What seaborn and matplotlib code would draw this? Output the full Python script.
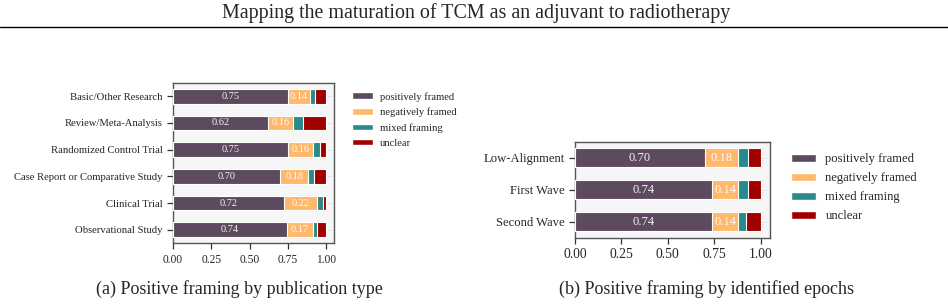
'''Positive framing of TCM studies - two stacked bar panels'''

import pandas as pd
import seaborn as sns
import matplotlib.pyplot as plt
from matplotlib.patches import Patch


pub_types = ['Basic/Other Research', 'Review/Meta-Analysis', 'Randomized Control Trial',
             'Case Report or Comparative Study', 'Clinical Trial', 'Observational Study']
pub_pos = [0.75, 0.62, 0.75, 0.70, 0.72, 0.74]
pub_neg = [0.14, 0.16, 0.16, 0.18, 0.22, 0.17]
pub_mix = [0.035, 0.07, 0.05, 0.04, 0.04, 0.025]
pub_unc = [0.075, 0.15, 0.04, 0.08, 0.02, 0.065]

epochs = ['Low-Alignment', 'First Wave', 'Second Wave']
ep_pos = [0.70, 0.74, 0.74]
ep_neg = [0.18, 0.14, 0.14]
ep_mix = [0.05, 0.05, 0.04]
ep_unc = [0.07, 0.07, 0.08]

series = ['positively framed', 'negatively framed', 'mixed framing', 'unclear']
colors = ['#5d4a5e', '#ffb96c', '#2a8a8a', '#a00000']

sns.set_style('ticks')
plt.rcParams['font.family'] = ['Liberation Serif', 'DejaVu Serif']


def stacked(ax, cats, pos, neg, mix, unc, height, fs):
    df = pd.DataFrame({'cat': cats, 'positively framed': pos, 'negatively framed': neg,
                       'mixed framing': mix, 'unclear': unc})
    # cumulative totals, drawn longest first so shorter ones sit on top
    cum = df[series].cumsum(axis=1)
    for s, c in list(zip(series, colors))[::-1]:
        sns.barplot(x=cum[s], y=df['cat'], color=c, width=height, ax=ax,
                    edgecolor='white', linewidth=0.8, saturation=1, zorder=3)
    for i, row in df.iterrows():
        ax.text(row['positively framed'] / 2, i, f"{row['positively framed']:.2f}",
                ha='center', va='center', color='#f2f2f2', fontsize=fs, zorder=5)
        ax.text(row['positively framed'] + row['negatively framed'] / 2, i,
                f"{row['negatively framed']:.2f}",
                ha='center', va='center', color='#fbfbfb', fontsize=fs, zorder=5)
    ax.set_facecolor('#f6f6f6')
    ax.set_xlim(0, 1.05)
    ax.set_xticks([0, 0.25, 0.5, 0.75, 1.0])
    ax.set_xticklabels(['0.00', '0.25', '0.50', '0.75', '1.00'])
    ax.set_xlabel('')
    ax.set_ylabel('')
    ax.yaxis.grid(True, ls='--', color='#e2e2e2', lw=0.6)
    ax.set_axisbelow(True)
    for sp in ax.spines.values():
        sp.set_color('#555555')
        sp.set_linewidth(1.0)
    ax.tick_params(color='#333333', length=4, width=0.9)


fig = plt.figure(figsize=(9.48, 3.05), dpi=100)

fig.text(0.502, 0.957, 'Mapping the maturation of TCM as an adjuvant to radiotherapy',
         ha='center', va='center', fontsize=14.4)
fig.add_artist(plt.Line2D([0, 1], [0.912, 0.912], color='black', lw=1.0,
                          transform=fig.transFigure))

ax1 = fig.add_axes([0.1825, 0.203, 0.170, 0.525])
stacked(ax1, pub_types, pub_pos, pub_neg, pub_mix, pub_unc, 0.55, 7.5)
ax1.tick_params(axis='y', labelsize=7.7)
ax1.tick_params(axis='x', labelsize=8.3)

ax2 = fig.add_axes([0.6065, 0.22, 0.2057, 0.315])
stacked(ax2, epochs, ep_pos, ep_neg, ep_mix, ep_unc, 0.6, 9)
ax2.tick_params(axis='y', labelsize=9.1)
ax2.tick_params(axis='x', labelsize=9.8)

handles = [Patch(facecolor=c, edgecolor='white', label=s) for s, c in zip(series, colors)]
fig.legend(handles=handles, loc='upper left', bbox_to_anchor=(0.361, 0.73),
           frameon=False, fontsize=7.6, handlelength=2.0, handleheight=0.6,
           labelspacing=0.56, handletextpad=0.7)
fig.legend(handles=handles, loc='upper left', bbox_to_anchor=(0.822, 0.535),
           frameon=False, fontsize=9.1, handlelength=2.0, handleheight=0.6,
           labelspacing=0.55, handletextpad=0.75)

fig.text(0.253, 0.052, '(a) Positive framing by publication type',
         ha='center', va='center', fontsize=13)
fig.text(0.745, 0.052, '(b) Positive framing by identified epochs',
         ha='center', va='center', fontsize=13)

fig.savefig('out.png', dpi=100)
